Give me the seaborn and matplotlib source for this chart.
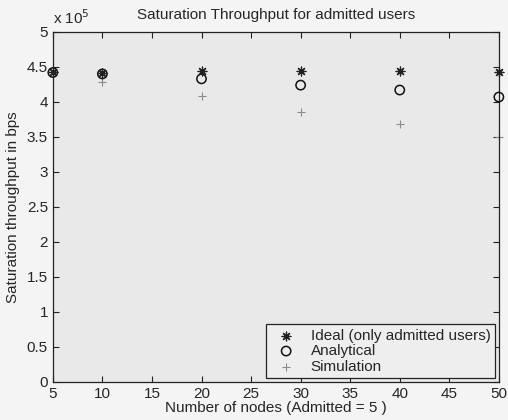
import matplotlib
matplotlib.use("Agg")
import matplotlib.pyplot as plt
import numpy as np
import pandas as pd
import seaborn as sns
from matplotlib.ticker import FuncFormatter, MultipleLocator

# values (bps)
nodes = [5, 10, 20, 30, 40, 50]
ideal = [4.43e5, 4.41e5, 4.44e5, 4.44e5, 4.44e5, 4.43e5]
analytical = [4.42e5, 4.40e5, 4.33e5, 4.24e5, 4.17e5, 4.07e5]
simulation = [4.43e5, 4.29e5, 4.09e5, 3.86e5, 3.69e5, 3.50e5]

sns.set_style("ticks")
plt.rcParams["font.family"] = ["Liberation Sans", "DejaVu Sans"]

fig = plt.figure(figsize=(5.08, 4.2), dpi=100, facecolor="#f4f4f4")
ax = fig.add_axes([0.104, 0.0905, 0.878, 0.8335])
ax.set_facecolor("#e9e9e9")

sns.scatterplot(x=nodes, y=ideal, ax=ax, marker=(8, 2, 0), s=40, clip_on=False,
                color="#222222", linewidth=0.9, label="Ideal (only admitted users)", zorder=4)
sns.scatterplot(x=nodes, y=analytical, ax=ax, marker="o", s=45, clip_on=False,
                facecolor="none", edgecolor="#111111", linewidth=1.1, label="Analytical", zorder=3)
sns.scatterplot(x=nodes, y=simulation, ax=ax, marker="+", s=30, clip_on=False,
                color="#8a8a8a", linewidth=0.8, label="Simulation", zorder=2)

ax.set_xlim(5, 50)
ax.set_ylim(0, 5e5)
ax.xaxis.set_major_locator(MultipleLocator(5))
ax.yaxis.set_major_locator(MultipleLocator(0.5e5))
ax.yaxis.set_major_formatter(FuncFormatter(lambda v, p: f"{v/1e5:g}"))
ax.tick_params(direction="in", top=True, right=True, length=4, width=0.8,
               labelsize=11, color="#222222")
for sp in ax.spines.values():
    sp.set_visible(True)
    sp.set_color("#222222")
    sp.set_linewidth(0.9)

ax.text(0.0, 1.015, r"x 10$^5$", transform=ax.transAxes, fontsize=11, ha="left", va="bottom")
ax.set_title("Saturation Throughput for admitted users", fontsize=11, pad=9)
ax.set_xlabel("Number of nodes (Admitted = 5 )", fontsize=11, labelpad=0)
ax.set_ylabel("Saturation throughput in bps", fontsize=11, labelpad=5)

leg = ax.legend(loc="lower right", fontsize=11, frameon=True, fancybox=False,
                edgecolor="#222222", facecolor="#eeeeee", framealpha=1,
                borderaxespad=0.25, handletextpad=0.6, labelspacing=0.1,
                borderpad=0.3)
leg.get_frame().set_linewidth(0.9)

fig.savefig("out.png", dpi=100, facecolor=fig.get_facecolor())
